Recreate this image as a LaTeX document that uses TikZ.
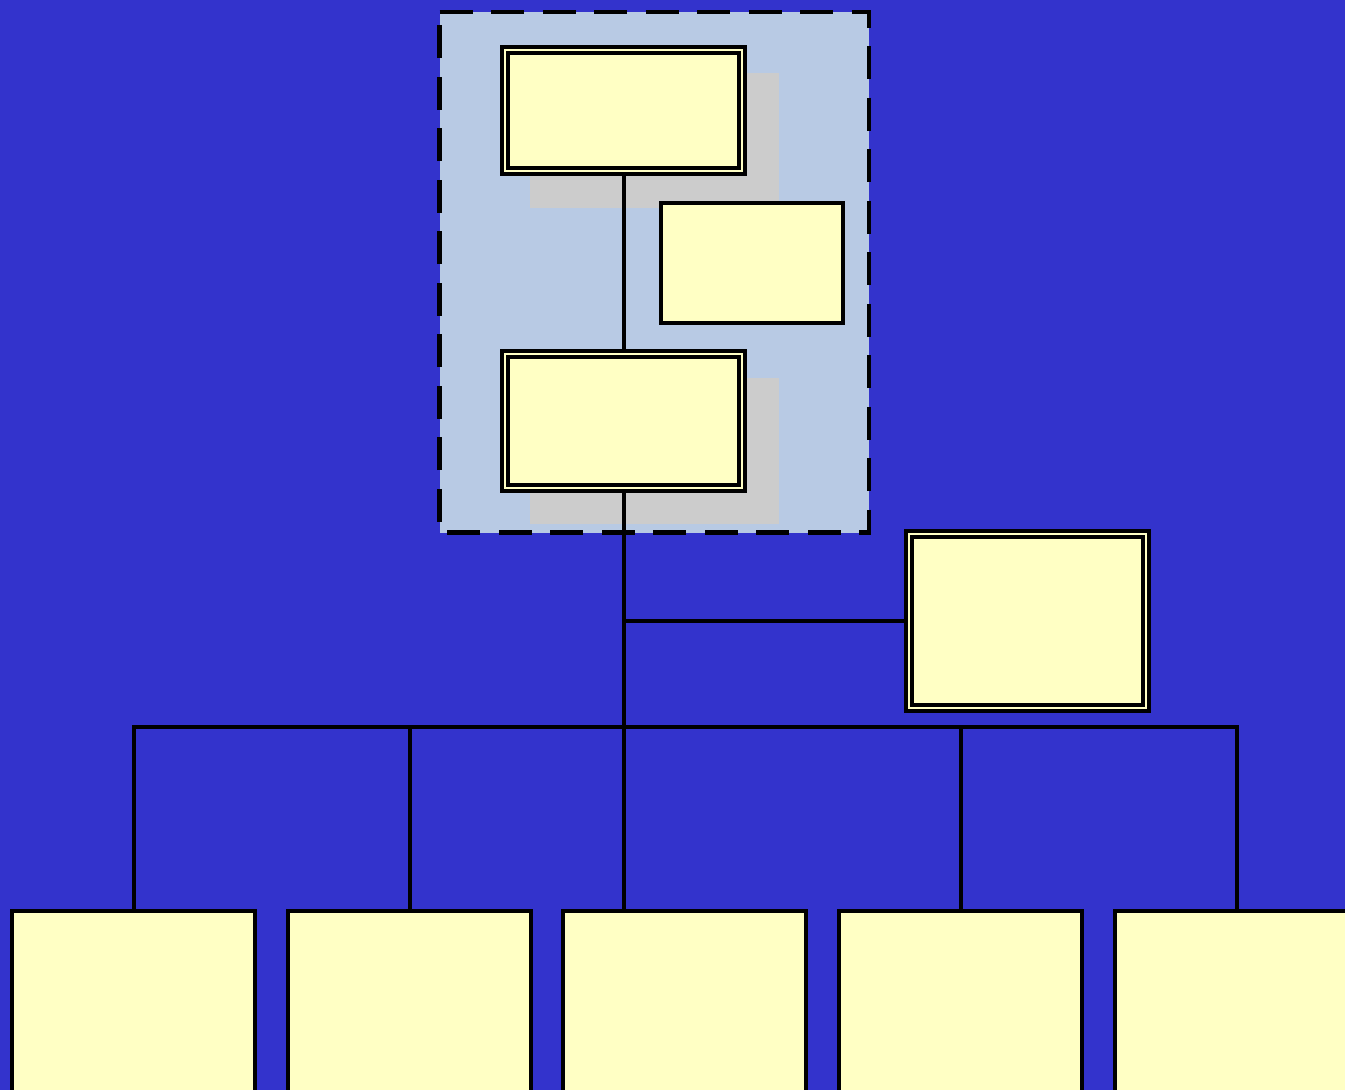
\documentclass[tikz,border=0pt]{standalone}
\usetikzlibrary{backgrounds}
\definecolor{bgblue}{HTML}{3333CC}
\definecolor{grpfill}{HTML}{B8CAE4}
\definecolor{shad}{HTML}{CCCCCC}
\definecolor{boxy}{HTML}{FFFFC4}
\begin{document}
\begin{tikzpicture}[x=1pt,y=-1pt,
  dbox/.style={rectangle, draw=black, line width=4pt, double=boxy, double distance=2pt, fill=boxy, inner sep=0pt, outer sep=0pt},
  sbox/.style={rectangle, draw=black, line width=4pt, fill=boxy, inner sep=0pt, outer sep=0pt},
  conn/.style={draw=black, line width=4pt},
  grpbox/.style={draw=black, line width=4.5pt, dash pattern=on 33pt off 18.5pt},
  shadowbox/.style={fill=shad}]
\useasboundingbox (0,0) rectangle (1345,1090);
% nodes
\node[dbox, minimum width=236.5pt, minimum height=121pt] (b1) at (623.5,110) {};
\node[sbox, minimum width=182pt, minimum height=120pt] (b2) at (752,263) {};
\node[dbox, minimum width=236.5pt, minimum height=134pt] (b3) at (623.5,420.5) {};
\node[dbox, minimum width=236.5pt, minimum height=174pt] (b4) at (1027.5,620.5) {};
\begin{scope}
\clip (0,0) rectangle (1345,1090);
\node[sbox, minimum width=243pt, minimum height=300pt, anchor=north] (c1) at (133.5,911) {};
\node[sbox, minimum width=243pt, minimum height=300pt, anchor=north] (c2) at (409.5,911) {};
\node[sbox, minimum width=243pt, minimum height=300pt, anchor=north] (c3) at (684.5,911) {};
\node[sbox, minimum width=243pt, minimum height=300pt, anchor=north] (c4) at (960.5,911) {};
\node[sbox, minimum width=243pt, minimum height=300pt, anchor=north] (c5) at (1236.5,911) {};
\end{scope}
\coordinate (busy) at (0,726.5);
\coordinate (trunk) at (623.5,0);
\begin{pgfonlayer}{background}
\fill[bgblue] (0,0) rectangle (1345,1090);
% group background
\path[fill=grpfill] (439.5,12) rectangle (869,532.5);
% shadows
\fill[shadowbox] (530,73) rectangle (779,208);
\fill[shadowbox] (530,378) rectangle (779,524);
% connectors
\draw[conn] (b1.south) -- (b3.north);
\draw[conn] (b3.south) -- (trunk |- c3.north);
\draw[conn] (b3.south |- b4.west) -- (b4.west);
\draw[conn] (c1.north) -- (c1.north |- busy) -- (c5.north |- busy) -- (c5.north);
\draw[conn] (c2.north) -- (c2.north |- busy);
\draw[conn] (c4.north) -- (c4.north |- busy);
\end{pgfonlayer}
% dashed group border
\draw[grpbox] (439.5,12) -- (869,12) -- (869,532.5) -- (439.5,532.5) -- cycle;
\end{tikzpicture}
\end{document}
